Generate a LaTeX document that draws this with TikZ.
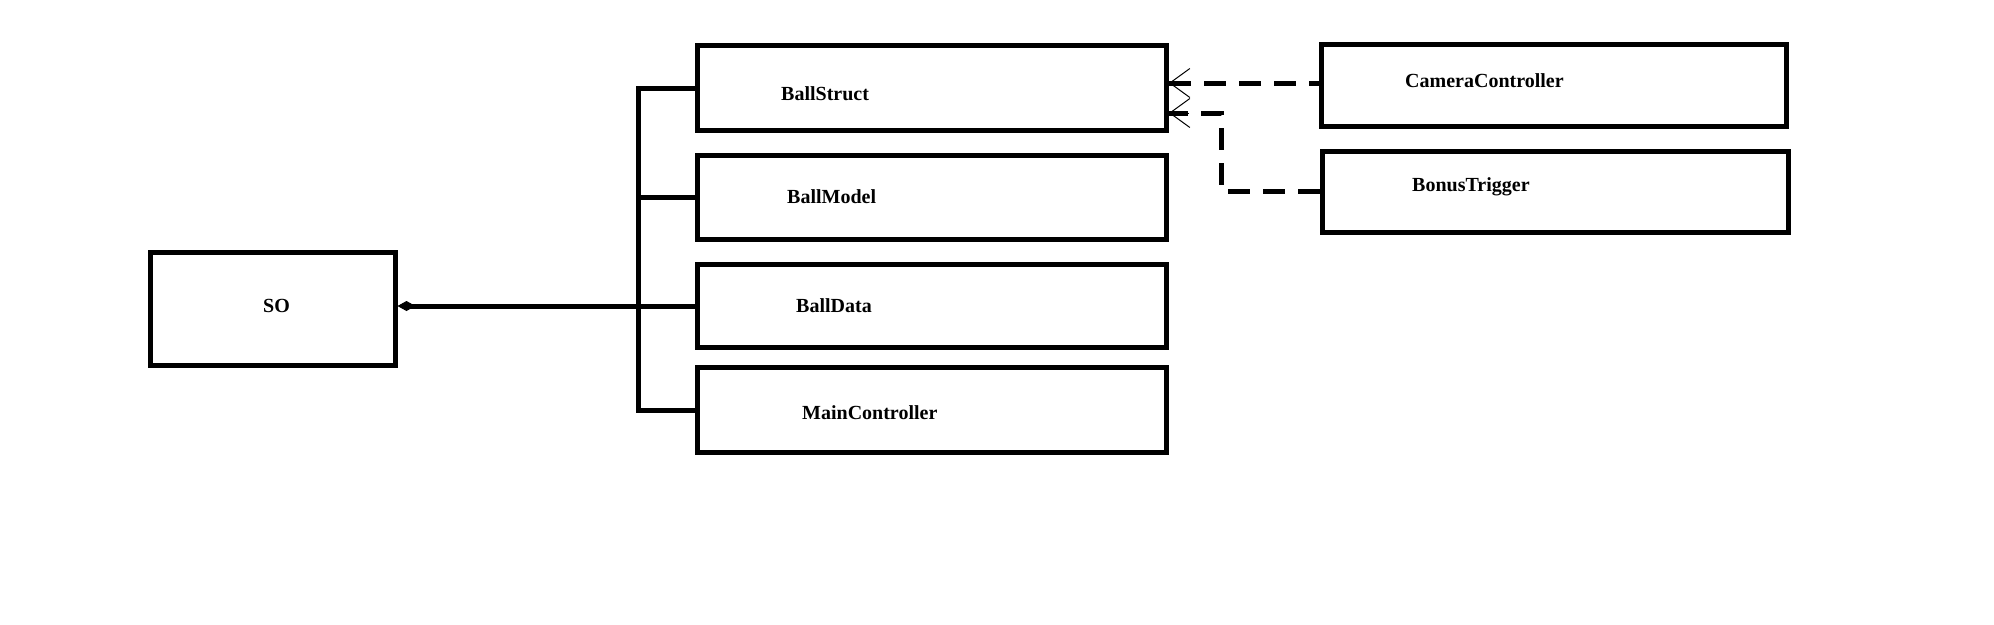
\documentclass[tikz,border=0pt]{standalone}
\usepackage{fontspec}
\setmainfont{Liberation Serif}
\usetikzlibrary{arrows.meta,positioning}

\tikzset{
    classbox/.style={rectangle, draw, line width=5pt, inner sep=0pt, minimum width=469pt, minimum height=85pt},
    classname/.style={anchor=base west, inner sep=0pt, font=\fontsize{20}{24}\selectfont\bfseries},
    link/.style={line width=5pt},
    dep/.style={line width=5pt, dash pattern=on 22pt off 13pt},
    deptip/.style={line width=1pt, -{Straight Barb[length=20pt, width=29pt, line width=1pt]}},
}

\begin{document}
\begin{tikzpicture}[x=1pt, y=-1pt]
    \useasboundingbox (0,0) rectangle (1994,624);

    % Owner
    \node[classbox, minimum width=245pt, minimum height=113pt] (so) at (272.5,308.5) {};
    \node[classname] (soname) at (263,312) {SO};

    % Parts
    \node[classbox] (ballstruct) at (932,88) {};
    \node[classbox, minimum height=84pt] (ballmodel) at (932,197.5) {};
    \node[classbox, minimum height=83pt] (balldata) at (932,306) {};
    \node[classbox] (maincontroller) at (932,410) {};

    \node[classname] (ballstructname) at (781,100) {BallStruct};
    \node[classname] (ballmodelname) at (787,203) {BallModel};
    \node[classname] (balldataname) at (796,312) {BallData};
    \node[classname] (maincontrollername) at (802,419) {MainController};

    % Users of BallStruct
    \node[classbox, minimum width=465pt, minimum height=82pt] (camera) at (1554,85.5) {};
    \node[classbox, minimum width=466pt, minimum height=81pt] (bonus) at (1555,191.5) {};

    \node[classname] (cameraname) at (1405,87) {CameraController};
    \node[classname] (bonusname) at (1412,191) {BonusTrigger};

    % Composition
    \draw[link, {Diamond[length=18pt, width=10pt, line width=1pt]}-] (so.east |- balldata.west) -- (balldata.west);
    \draw[link] (ballstruct.west) -- ++(-57,0) |- (maincontroller.west);
    \draw[link] (ballmodel.west) -- ++(-57,0);

    % Dependencies
    \coordinate (camout) at ([yshift=2.5pt]camera.west);
    \coordinate (bonusin) at ([yshift=-25pt]ballstruct.east);
    \draw[dep] (camout -| ballstruct.east) -- (camout);
    \draw[deptip] ([xshift=20pt]camout -| ballstruct.east) -- (camout -| ballstruct.east);
    \draw[dep] (bonus.west) -- ++(-98,0) |- (bonusin);
    \draw[deptip] ([xshift=20pt]bonusin) -- (bonusin);
\end{tikzpicture}
\end{document}
